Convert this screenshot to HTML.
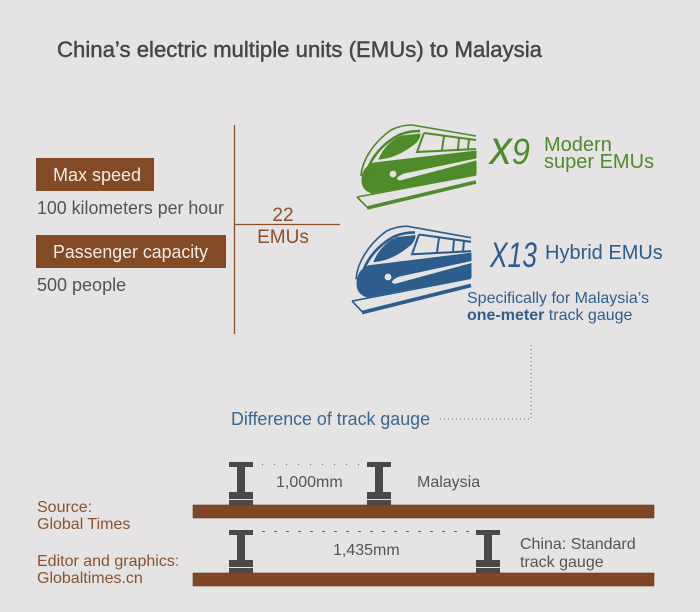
<!DOCTYPE html>
<html><head><meta charset="utf-8"><style>
html,body{margin:0;padding:0;background:#e5e3e3;}
svg{display:block;font-family:"Liberation Sans",Arial,sans-serif;}
</style></head><body>
<svg width="700" height="612" viewBox="0 0 700 612" xmlns="http://www.w3.org/2000/svg">
<defs>
<g id="train">
  <path d="M8,60 C8,52 12,46 20,43 L122,31 L122,38 L50,53 C42,56 40,60 46,61 L122,41 L122,54 L18,73 C11,71 8,66 8,60 Z"/>
  <path d="M25,39 C30,28 38,20 48,16 L66,14 C66,18 63,22 60,24 C50,32 38,38 25,39 Z"/>
  <path d="M7,56 C8,40 20,22 37,10 C45,6 52,5 58,5 L122,16" fill="none" stroke-width="1.6"/>
  <path d="M12,60 C12,45 24,26 45,15 C52,12 60,11 66,11" fill="none" stroke-width="2.6"/>
  <path d="M70,13 L122,20 M70,13 L63,32 L122,29" fill="none" stroke-width="2"/>
  <path d="M90,16 L88,30 M105,18 L104,29 M115,19 L114,29" fill="none" stroke-width="2"/>
  <path d="M3,77 L122,55 M3,77 L13,87" fill="none" stroke-width="1.6"/>
  <path d="M13,88 L122,62" fill="none" stroke-width="3.6"/>
</g>
<g id="ibeam">
  <rect x="0" y="0" width="24" height="5"/>
  <rect x="8" y="5" width="8" height="25"/>
  <rect x="0" y="30" width="24" height="7"/>
  <rect x="0" y="38" width="24" height="5"/>
</g>
</defs>
<rect width="700" height="612" fill="#e5e3e3"/>

<!-- Title -->
<text x="57" y="57" font-size="22" fill="#474545" stroke="#474545" stroke-width="0.45" textLength="485" lengthAdjust="spacingAndGlyphs">China’s electric multiple units (EMUs) to Malaysia</text>

<!-- Left info -->
<rect x="36" y="158" width="118" height="33" fill="#834a26"/>
<text x="53" y="181" font-size="18" fill="#f3ece6">Max speed</text>
<text x="37" y="214" font-size="18" fill="#555353" textLength="187" lengthAdjust="spacingAndGlyphs">100 kilometers per hour</text>
<rect x="36" y="235" width="190" height="33" fill="#834a26"/>
<text x="53" y="258" font-size="18" fill="#f3ece6" textLength="155" lengthAdjust="spacingAndGlyphs">Passenger capacity</text>
<text x="37" y="291" font-size="18" fill="#555353">500 people</text>

<!-- 22 EMUs -->
<line x1="234.5" y1="125" x2="234.5" y2="334" stroke="#8a4f2b" stroke-width="1.3"/>
<line x1="234" y1="224.5" x2="340" y2="224.5" stroke="#8a4f2b" stroke-width="1.3"/>
<text x="283" y="221" font-size="19" fill="#8a4f2b" text-anchor="middle">22</text>
<text x="283" y="243" font-size="19" fill="#8a4f2b" text-anchor="middle">EMUs</text>

<!-- Trains -->
<g fill="#4f8a2b" stroke="#4f8a2b" transform="translate(354,120)"><use href="#train"/></g>
<circle cx="393" cy="174" r="3.4" fill="#e5e3e3"/>
<g fill="#2d5d8c" stroke="#2d5d8c" transform="translate(349,221) scale(1,1.04)"><use href="#train"/></g>
<circle cx="388" cy="277" r="3.4" fill="#e5e3e3"/>

<!-- x9 / X13 -->
<text x="490" y="164" font-size="36" font-style="italic" fill="#4f8a2b" textLength="40" lengthAdjust="spacingAndGlyphs"><tspan font-size="48">x</tspan>9</text>
<text x="544" y="151" font-size="20" fill="#4f8a2b">Modern</text>
<text x="544" y="168" font-size="20" fill="#4f8a2b">super EMUs</text>

<text x="490" y="267" font-size="35" font-style="italic" fill="#2d5d8c" textLength="47" lengthAdjust="spacingAndGlyphs">X13</text>
<text x="545" y="259" font-size="20" fill="#2d5d8c">Hybrid EMUs</text>
<text x="467" y="303" font-size="16" fill="#2f5f8f">Specifically for Malaysia’s</text>
<text x="467" y="320" font-size="16" fill="#2f5f8f"><tspan font-weight="bold">one-meter</tspan> track gauge</text>

<!-- dotted connector -->
<path d="M531,345 L531,419 L437,419" fill="none" stroke="#6a6a6a" stroke-width="1" stroke-dasharray="1,3"/>
<text x="231" y="425" font-size="18" fill="#3b6791" textLength="199" lengthAdjust="spacingAndGlyphs">Difference of track gauge</text>

<!-- Gauge diagrams -->
<line x1="262" y1="464.5" x2="362" y2="464.5" stroke="#666" stroke-width="1" stroke-dasharray="1,11"/>
<g fill="#4a4848">
  <use href="#ibeam" x="229" y="462"/>
  <use href="#ibeam" x="367" y="462"/>
  <use href="#ibeam" x="229" y="530"/>
  <use href="#ibeam" x="476" y="530"/>
</g>
<rect x="193" y="505" width="461" height="13" fill="#7f4725" stroke="#6b3a1c" stroke-width="0.6"/>
<rect x="193" y="573" width="461" height="13" fill="#7f4725" stroke="#6b3a1c" stroke-width="0.6"/>
<line x1="262" y1="531.5" x2="476" y2="531.5" stroke="#666" stroke-width="1" stroke-dasharray="3,9"/>

<text x="276" y="487" font-size="16" fill="#555353">1,000mm</text>
<text x="417" y="487" font-size="16" fill="#555353">Malaysia</text>
<text x="333" y="555" font-size="16" fill="#555353">1,435mm</text>
<text x="520" y="549" font-size="16" fill="#555353">China: Standard</text>
<text x="520" y="567" font-size="16" fill="#555353">track gauge</text>

<!-- Source -->
<g font-size="16" fill="#8a5230">
<text x="37" y="512">Source:</text>
<text x="37" y="529">Global Times</text>
<text x="37" y="566">Editor and graphics:</text>
<text x="37" y="583">Globaltimes.cn</text>
</g>
</svg>
</body></html>
